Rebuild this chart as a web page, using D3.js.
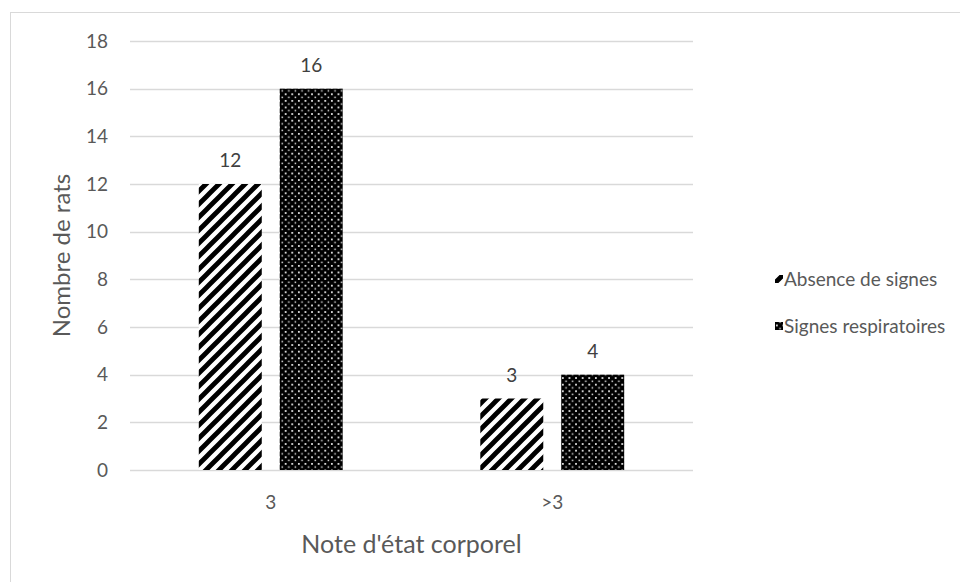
<!DOCTYPE html>
<html><head><meta charset="utf-8">
<script src="https://cdn.jsdelivr.net/npm/d3@7"></script>
<style>body{margin:0;background:#fff;} text{font-family:Lato, "Open Sans", sans-serif;}</style>
</head><body>
<svg id="c" width="960" height="582"></svg>
<script>
const categories = ["3", ">3"];
const seriesNames = ["Absence de signes", "Signes respiratoires"];
const absence = [12, 3];
const respiratoires = [16, 4];
const yTicks = [0, 2, 4, 6, 8, 10, 12, 14, 16, 18];

(function(){
const svg = d3.select("#c");
const defs = svg.append("defs");
const P = 13;
const ph = defs.append("pattern").attr("id","hatch").attr("patternUnits","userSpaceOnUse")
  .attr("width",P).attr("height",P);
ph.append("rect").attr("width",P).attr("height",P).attr("fill","#fff");
ph.append("path").attr("d",`M-4,4 L4,-4 M0,${P} L${P},0 M${P-4},${P+4} L${P+4},${P-4}`).attr("stroke","#000").attr("stroke-width",4.8);
const pd = defs.append("pattern").attr("id","dots").attr("patternUnits","userSpaceOnUse")
  .attr("width",6.6).attr("height",6.6);
pd.append("rect").attr("width",6.6).attr("height",6.6).attr("fill","#000");
pd.append("rect").attr("x",1).attr("y",1).attr("width",1.7).attr("height",1.7).attr("fill","#fff");
pd.append("rect").attr("x",4.3).attr("y",4.3).attr("width",1.5).attr("height",1.5).attr("fill","#e0e0e0");
const fills = ["url(#hatch)","url(#dots)"];

// outer border
svg.append("rect").attr("x",10.5).attr("y",12.5).attr("width",960).attr("height",600)
  .attr("fill","none").attr("stroke","#d9d9d9");

const pl=130, pr=693, pt=41, pb=470;
const x = d3.scaleBand().domain(categories).range([pl,pr]);
const y = d3.scaleLinear().domain([0,18]).range([pb,pt]);
const inner = d3.scaleBand().domain(seriesNames).range([0,x.bandwidth()]).paddingInner(0.222).paddingOuter(0.85);

// gridlines
svg.append("g").selectAll("line").data(yTicks).join("line")
  .attr("x1",pl).attr("x2",pr).attr("y1",d=>Math.round(y(d))+0.5).attr("y2",d=>Math.round(y(d))+0.5)
  .attr("stroke","#d9d9d9").attr("stroke-width",1.3);

// y axis
const ya = svg.append("g").attr("transform",`translate(${pl},0)`)
  .call(d3.axisLeft(y).tickValues(yTicks).tickSize(0).tickPadding(22));
ya.select(".domain").remove();
ya.selectAll("text").attr("font-size",19).attr("fill","#595959").style("font-family","Lato");

// x axis
const xa = svg.append("g").attr("transform",`translate(0,${pb})`)
  .call(d3.axisBottom(x).tickSize(0).tickPadding(26));
xa.select(".domain").remove();
xa.selectAll("text").attr("font-size",19).attr("fill","#595959").style("font-family","Lato");

const data = [absence, respiratoires];
seriesNames.forEach((s,i)=>{
  svg.append("g").selectAll("rect").data(categories).join("rect")
    .attr("x",c=>x(c)+inner(s)).attr("width",inner.bandwidth())
    .attr("y",(c,j)=>y(data[i][j])).attr("height",(c,j)=>pb-y(data[i][j]))
    .attr("fill",fills[i]);
  svg.append("g").selectAll("text").data(categories).join("text")
    .attr("x",c=>x(c)+inner(s)+inner.bandwidth()/2)
    .attr("y",(c,j)=>y(data[i][j])-17)
    .attr("text-anchor","middle").attr("font-size",19).attr("fill","#404040")
    .text((c,j)=>data[i][j]);
});

// axis titles
svg.append("text").attr("transform",`translate(70,${(pt+pb)/2}) rotate(-90)`)
  .attr("text-anchor","middle").attr("font-size",24).attr("fill","#595959").text("Nombre de rats");
svg.append("text").attr("x",(pl+pr)/2).attr("y",553)
  .attr("text-anchor","middle").attr("font-size",25).attr("fill","#595959").text("Note d'état corporel");

// legend
const lg = svg.append("g").attr("transform","translate(775,270)");
seriesNames.forEach((s,i)=>{
  const g = lg.append("g").attr("transform",`translate(0,${i*47})`);
  g.append("rect").attr("x",0).attr("y",5).attr("width",8).attr("height",8).attr("fill",fills[i]);
  g.append("text").attr("x",9).attr("y",15.5).attr("font-size",19).attr("fill","#595959").text(s);
});
})();
</script>
</body></html>
